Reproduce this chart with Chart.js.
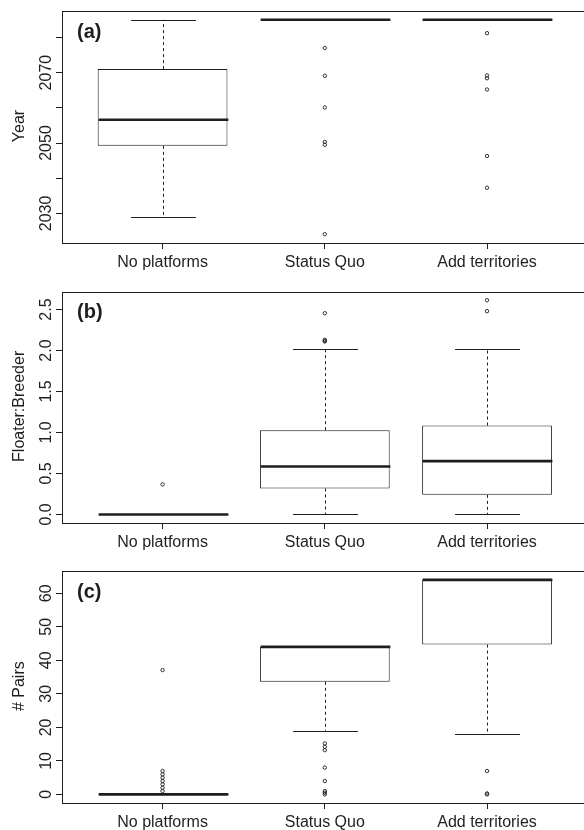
<!DOCTYPE html>
<html>
<head>
<meta charset="utf-8">
<script src="https://cdn.jsdelivr.net/npm/chart.js@4.4.1/dist/chart.umd.min.js"></script>
<style>
  html, body { margin: 0; padding: 0; background: #fff; overflow: hidden; width: 584px; height: 830px; }
  canvas { position: absolute; left: 0; }
</style>
</head>
<body>
<canvas id="chartA" width="600" height="280" style="top:0px"></canvas>
<canvas id="chartB" width="600" height="280" style="top:280px"></canvas>
<canvas id="chartC" width="600" height="280" style="top:560px"></canvas>
<script>
// categories shared by all three panels
var categories = ['No platforms', 'Status Quo', 'Add territories'];

// (a) year
var yearLow = [2029, 2085, 2085];
var yearQ1 = [2049.2, 2085, 2085];
var yearMed = [2056.6, 2085, 2085];
var yearQ3 = [2071, 2085, 2085];
var yearHigh = [2085, 2085, 2085];
var yearOutliers = [[], [2077, 2069.1, 2060.1, 2050.3, 2049.5, 2024.1], [2081.2, 2069.2, 2068.4, 2065.2, 2046.3, 2037.3]];
var yearTicks = [2030, 2040, 2050, 2060, 2070, 2080];
var yearTickLabels = ['2030', '', '2050', '', '2070', ''];

// (b) floater:breeder
var ratioLow = [0, 0, 0];
var ratioQ1 = [0, 0.317, 0.239];
var ratioMed = [0, 0.585, 0.65];
var ratioQ3 = [0, 1.028, 1.085];
var ratioHigh = [0, 2.016, 2.016];
var ratioOutliers = [[0.366], [2.455, 2.13, 2.12, 2.11], [2.613, 2.48]];
var ratioTicks = [0, 0.5, 1, 1.5, 2, 2.5];
var ratioTickLabels = ['0.0', '0.5', '1.0', '1.5', '2.0', '2.5'];

// (c) # pairs
var pairsLow = [0, 19, 18.1];
var pairsQ1 = [0, 33.6, 44.7];
var pairsMed = [0, 44, 64];
var pairsQ3 = [0, 44, 64];
var pairsHigh = [0, 44, 64];
var pairsOutliers = [[37.1, 7, 6, 5, 4, 3, 2, 1], [15.2, 14.2, 13.2, 8, 4, 1, 0.5, 0], [7, 0.3, 0]];
var pairsTicks = [0, 10, 20, 30, 40, 50, 60];
var pairsTickLabels = ['0', '10', '20', '30', '40', '50', '60'];

var ink = '#1e1e1e';
var font = '"Liberation Sans", Arial, Helvetica, sans-serif';

// medians, whiskers, frame and the rotated texts
var boxParts = {
    id: 'boxParts',
    afterDatasetsDraw: function(chart) {
        var p = chart.options.plugins.boxParts;
        var ctx = chart.ctx;
        var xs = chart.scales.x, ys = chart.scales.y;
        var area = chart.chartArea;
        var halfBox = xs.getPixelForValue(1.4) - xs.getPixelForValue(1);
        var halfCap = xs.getPixelForValue(1.2) - xs.getPixelForValue(1);

        function seg(x1, y1, x2, y2) {
            ctx.beginPath();
            ctx.moveTo(x1, y1);
            ctx.lineTo(x2, y2);
            ctx.stroke();
        }

        ctx.save();
        ctx.strokeStyle = ink;
        for (var i = 0; i < categories.length; i++) {
            var cx = Math.round(xs.getPixelForValue(i + 1)) + 0.5;
            var yLow = ys.getPixelForValue(p.low[i]);
            var yQ1 = ys.getPixelForValue(p.q1[i]);
            var yQ3 = ys.getPixelForValue(p.q3[i]);
            var yHigh = ys.getPixelForValue(p.high[i]);
            var yMed = ys.getPixelForValue(p.med[i]);

            ctx.lineWidth = 1;
            ctx.setLineDash([3, 3]);
            if (p.high[i] > p.q3[i]) seg(cx, yQ3, cx, yHigh);
            if (p.low[i] < p.q1[i]) seg(cx, yQ1, cx, yLow);
            ctx.setLineDash([]);
            seg(cx - halfCap, Math.round(yHigh) + 0.5, cx + halfCap, Math.round(yHigh) + 0.5);
            seg(cx - halfCap, Math.round(yLow) + 0.5, cx + halfCap, Math.round(yLow) + 0.5);

            ctx.lineWidth = 2.6;
            seg(cx - halfBox, yMed, cx + halfBox, yMed);
        }

        ctx.lineWidth = 1;
        ctx.strokeRect(Math.round(area.left) + 0.5, Math.round(area.top) + 0.5,
            Math.round(area.right - area.left), Math.round(area.bottom - area.top));

        // y tick labels, parallel to the axis
        ctx.fillStyle = ink;
        ctx.font = '16px ' + font;
        ctx.textAlign = 'center';
        ctx.textBaseline = 'alphabetic';
        for (var k = 0; k < p.ticks.length; k++) {
            if (!p.tickLabels[k]) continue;
            var ty = ys.getPixelForValue(p.ticks[k]);
            ctx.save();
            ctx.translate(50.5, ty);
            ctx.rotate(-Math.PI / 2);
            ctx.fillText(p.tickLabels[k], 0, 0);
            ctx.restore();
        }

        // axis title
        ctx.save();
        ctx.translate(24, (area.top + area.bottom) / 2 - 1);
        ctx.rotate(-Math.PI / 2);
        ctx.fillText(p.title, 0, 0);
        ctx.restore();

        // panel letter
        ctx.font = 'bold 20px ' + font;
        ctx.textAlign = 'left';
        ctx.fillText(p.letter, area.left + 15, area.top + 26.5);
        ctx.restore();
    }
};

function makePanel(id, topPad, yMin, yMax, low, q1, med, q3, high, outliers, ticks, tickLabels, title, letter) {
    var boxes = [];
    var points = [];
    for (var i = 0; i < categories.length; i++) {
        boxes.push({ x: i + 1, y: [q1[i], q3[i]] });
        for (var j = 0; j < outliers[i].length; j++) {
            points.push({ x: i + 1, y: outliers[i][j] });
        }
    }
    return new Chart(document.getElementById(id), {
        type: 'bar',
        data: {
            datasets: [{
                type: 'bar',
                data: boxes,
                backgroundColor: '#ffffff',
                borderColor: ink,
                borderWidth: 1,
                borderSkipped: false,
                barPercentage: 1,
                categoryPercentage: 0.8
            }, {
                type: 'scatter',
                data: points,
                pointStyle: 'circle',
                pointRadius: 1.7,
                pointBorderWidth: 0.9,
                pointBorderColor: ink,
                pointBackgroundColor: 'rgba(0,0,0,0)'
            }]
        },
        options: {
            responsive: false,
            animation: false,
            events: [],
            layout: { padding: { top: topPad, right: 12.4, left: 0, bottom: 0 } },
            plugins: {
                legend: { display: false },
                tooltip: { enabled: false },
                boxParts: {
                    low: low, q1: q1, med: med, q3: q3, high: high,
                    ticks: ticks, tickLabels: tickLabels, title: title, letter: letter
                }
            },
            scales: {
                x: {
                    type: 'linear',
                    min: 0.38,
                    max: 3.62,
                    offset: false,
                    afterBuildTicks: function(s) {
                        s.ticks = categories.map(function(c, i) { return { value: i + 1 }; });
                    },
                    afterFit: function(s) { s.height = 37; },
                    ticks: {
                        autoSkip: false,
                        maxRotation: 0,
                        padding: 4,
                        color: ink,
                        font: { family: font, size: 16 },
                        callback: function(v) { return categories[v - 1]; }
                    },
                    grid: { offset: false, drawOnChartArea: false, drawTicks: true, tickLength: 6, color: ink },
                    border: { display: false }
                },
                y: {
                    type: 'linear',
                    min: yMin,
                    max: yMax,
                    beginAtZero: false,
                    afterBuildTicks: function(s) {
                        s.ticks = ticks.map(function(v) { return { value: v }; });
                    },
                    afterFit: function(s) { s.width = 62; },
                    ticks: { display: false },
                    grid: { drawOnChartArea: false, drawTicks: true, tickLength: 6, color: ink },
                    border: { display: false }
                }
            }
        },
        plugins: [boxParts]
    });
}

makePanel('chartA', 11, 2021.6, 2087.5, yearLow, yearQ1, yearMed, yearQ3, yearHigh, yearOutliers,
    yearTicks, yearTickLabels, 'Year', '(a)');
makePanel('chartB', 11.7, -0.1045, 2.7175, ratioLow, ratioQ1, ratioMed, ratioQ3, ratioHigh, ratioOutliers,
    ratioTicks, ratioTickLabels, 'Floater:Breeder', '(b)');
makePanel('chartC', 11.3, -2.56, 66.56, pairsLow, pairsQ1, pairsMed, pairsQ3, pairsHigh, pairsOutliers,
    pairsTicks, pairsTickLabels, '# Pairs', '(c)');
</script>
</body>
</html>
